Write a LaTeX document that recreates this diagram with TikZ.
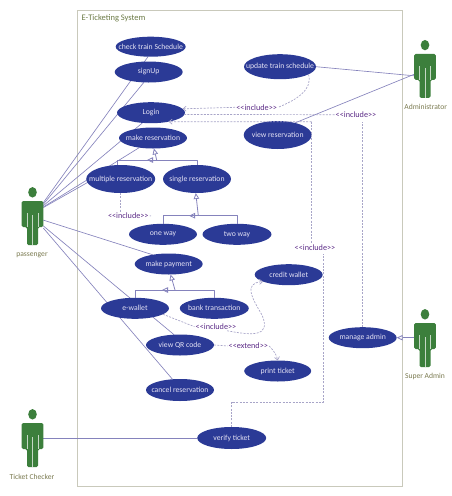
\documentclass[tikz,border=0pt]{standalone}
\usepackage{fontspec}
\setmainfont{Carlito}
\usetikzlibrary{shapes.geometric,arrows.meta,backgrounds}
\definecolor{ucblue}{HTML}{2B3A96}
\definecolor{uctext}{HTML}{E4E2F4}
\definecolor{actgreen}{HTML}{3C7F3C}
\definecolor{linkcol}{HTML}{8583BC}
\definecolor{depcol}{HTML}{A8A5C8}
\definecolor{inccol}{HTML}{5B2A86}
\definecolor{framecol}{HTML}{C9C9BB}
\definecolor{titlecol}{HTML}{6B7A45}
\definecolor{actlabel}{HTML}{7A7A50}
\newcommand{\uc}[1]{\makebox[0pt]{#1}}
\newcommand{\incl}{{<}{<}include{>}{>}}
\newcommand{\extd}{{<}{<}extend{>}{>}}
\tikzset{
  usecase/.style={ellipse,fill=ucblue,text=uctext,font=\fontsize{7.7}{9}\selectfont,inner sep=0pt,outer sep=0pt,minimum width=68pt,minimum height=21pt},
  link/.style={draw=linkcol,line width=0.65pt},
  gen/.style={draw=linkcol,line width=0.8pt},
  gentip/.style={gen,-{Triangle[open,length=6pt,width=5.5pt]}},
  dep/.style={draw=depcol,line width=0.7pt,dash pattern=on 2pt off 1.3pt},
  deptip/.style={dep,-{Straight Barb[length=3pt,width=5pt]}},
  stereo/.style={text=inccol,font=\fontsize{8.2}{9}\selectfont,inner sep=1pt},
  actname/.style={text=actlabel,font=\fontsize{7.6}{9}\selectfont,inner sep=0pt},
  actor/.pic={
    \fill[actgreen] (0,-30.7) ellipse (4.3pt and 5.2pt);
    \fill[actgreen,rounded corners=1.5pt] (-10.8,-22) -- (10.8,-22) -- (10.8,4) -- (5.5,4)
      -- (5.5,22) -- (-5.5,22) -- (-5.5,4) -- (-10.8,4) -- cycle;
    \draw[white!70!actgreen,line width=0.5pt] (-5.5,-10) -- (-5.5,4);
    \draw[white!70!actgreen,line width=0.5pt] (5.5,-10) -- (5.5,4);
    \draw[white!70!actgreen,line width=0.5pt] (0,-8) -- (0,22);
    \node[minimum width=21.6pt,minimum height=44pt,inner sep=0pt,outer sep=0pt] (-body) at (0,0) {};
  }
}
\begin{document}
\begin{tikzpicture}[x=1pt,y=-1pt,line cap=butt,line join=round]
  \useasboundingbox (0,0) rectangle (452,496);
  \node[anchor=west,text=titlecol,font=\fontsize{8.5}{10}\selectfont,inner sep=0pt] (sysname) at (81.5,18.7) {E-Ticketing System};

  \pic (pas) at (32.5,223) {actor};
  \pic (adm) at (425,75.8) {actor};
  \pic (sup) at (425,345) {actor};
  \pic (chk) at (32.5,445) {actor};
  \node[actname] (pasname) at (32,255) {passenger};
  \node[actname] (admname) at (425.7,106.7) {Administrator};
  \node[actname] (supname) at (425,376.7) {Super Admin};
  \node[actname] (chkname) at (32,476.7) {Ticket Checker};

  \node[stereo] (incupd) at (256.7,107.3) {\incl};
  \node[stereo] (incadm) at (356,114.7) {\incl};
  \node[stereo] (incver) at (315,247.3) {\incl};
  \node[stereo] (incmul) at (128.3,215.7) {\incl};
  \node[stereo] (incwal) at (216,326.7) {\incl};
  \node[stereo] (extqr) at (248.3,346) {\extd};

  \coordinate (resbus) at (156.7,160);
  \coordinate (resleft) at (117.5,160);
  \coordinate (resmid) at (147,160);
  \coordinate (sinbus) at (198.3,215.7);
  \coordinate (sinmid) at (189,215.7);
  \coordinate (paybus) at (175,290);
  \coordinate (payleft) at (135,290);
  \coordinate (paymid) at (162,290);
  \coordinate (admbend) at (362.7,121.7);
  \coordinate (viewbend) at (311.5,121.7);
  \coordinate (verbend) at (323.3,402);
  \coordinate (verend) at (323.3,254);
  \coordinate (mulend) at (151,216);

  \node[usecase,minimum width=70pt,minimum height=20pt] (check) at (150.7,46.7) {\uc{check train Schedule}};
  \node[usecase] (signup) at (148.7,72) {\uc{signUp}};
  \node[usecase] (login) at (151,112.7) {\uc{Login}};
  \node[usecase] (makeres) at (153,138) {\uc{make reservation}};
  \node[usecase,minimum width=72pt,minimum height=25pt] (update) at (280,66.7) {\uc{update train schedule}};
  \node[usecase,minimum height=28pt] (viewres) at (277.7,135) {\uc{view reservation}};
  \node[usecase,minimum width=69pt,minimum height=28pt] (multi) at (120.7,179) {\uc{multiple reservation}};
  \node[usecase,minimum height=28pt] (single) at (197,179) {\uc{single reservation}};
  \node[usecase] (oneway) at (163,234.3) {\uc{one way}};
  \node[usecase,minimum width=69pt] (twoway) at (237,234.3) {\uc{two way}};
  \node[usecase] (payment) at (168.7,264) {\uc{make payment}};
  \node[usecase] (wallet) at (135,308.3) {\uc{e-wallet}};
  \node[usecase,minimum width=69pt] (bank) at (214.3,308.3) {\uc{bank transaction}};
  \node[usecase] (credit) at (288.7,274.7) {\uc{credit wallet}};
  \node[usecase] (viewqr) at (180,345) {\uc{view QR code}};
  \node[usecase,minimum width=67pt] (print) at (277.7,371) {\uc{print ticket}};
  \node[usecase,minimum height=22pt] (cancel) at (180,390) {\uc{cancel reservation}};
  \node[usecase,minimum width=69pt,minimum height=22pt] (verify) at (231.7,438) {\uc{verify ticket}};
  \node[usecase] (manage) at (362.7,337.7) {\uc{manage admin}};

  \begin{scope}[on background layer]
  \draw[framecol,line width=1pt] (77.7,10) rectangle (402.3,486);
  \draw[link] (pas-body.62) -- (check.-105);
  \draw[link] (pas-body.60) -- (signup.-115);
  \draw[link] (pas-body.58) -- (login.-130);
  \draw[link] (pas-body.56) -- (makeres.-145);
  \draw[link] (pas-body.55) -- (multi.100);
  \draw[link] (pas-body.15) -- (payment.150);
  \draw[link] (pas-body.-15) -- (viewqr.120);
  \draw[link] (pas-body.-25) -- (cancel.125);
  \draw[link] (adm-body.west) -- (update.east);
  \draw[link] (adm-body.172) -- (viewres.35);
  \draw[link] (chk-body.east |- verify.west) -- (verify.west);
  \end{scope}

  \draw[gen] (resleft) -- (resleft |- multi.north);
  \draw[gen] (resleft) -| (single.north);
  \draw[gentip] (resbus) -- (resmid);
  \draw[gentip] (resbus) -- (makeres.-85);
  \draw[gen] (oneway.north) |- (twoway.north |- sinbus) -- (twoway.north);
  \draw[gentip] (sinbus) -- (sinmid);
  \draw[gentip] (sinbus) -- (single.-95);
  \draw[gen] (payleft) -- (wallet.north -| payleft);
  \draw[gen] (payleft) -| (bank.north);
  \draw[gentip] (paybus) -- (paymid);
  \draw[gentip] (paybus) -- (payment.-80);
  \draw[gentip] (sup-body.west |- manage.east) -- (manage.east);

  \draw[dep] (update.-15) .. controls (313,90) and (296,100) .. (incupd.east);
  \draw[deptip] (incupd.west) -- (login.7);
  \draw[dep] (manage.north) -- (admbend);
  \draw[dep] (incadm.west) -- (login.-3);
  \draw[deptip] (viewbend) -- (login.-27);
  \draw[dep] (viewbend) -- (incver.north -| viewbend);
  \draw[dep] (verify.north) |- (verbend) -- (verend);
  \draw[dep] (multi.south) -- (incmul.north -| multi.south);
  \draw[dep] (incmul.east) -- (mulend);
  \draw[dep] (wallet.-12) -- (incwal.west);
  \draw[deptip] (incwal.-20) .. controls (250,335) and (272,338) .. (262,315)
    .. controls (252,298) and (243,283) .. (credit.-165);
  \draw[dep] (viewqr.east) -- (extqr.west);
  \draw[deptip] (extqr.east) .. controls (270,347) and (276,352) .. (print.90);
\end{tikzpicture}
\end{document}
